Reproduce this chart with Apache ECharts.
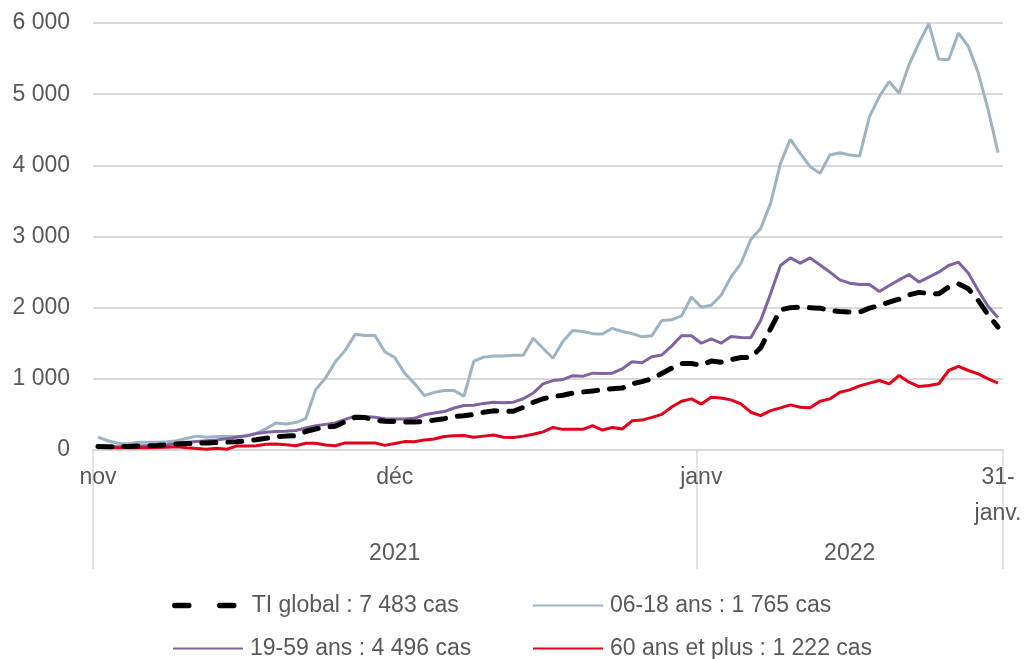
<!DOCTYPE html>
<html>
<head>
<meta charset="utf-8">
<script src="https://cdn.jsdelivr.net/npm/echarts@6/dist/echarts.min.js"></script>
<style>
  html, body { margin: 0; padding: 0; background: #ffffff; }
  #chart { width: 1026px; height: 659px; }
</style>
</head>
<body>
<div id="chart"></div>
<script>
// Daily categories: 1 Nov 2021 -> 31 Jan 2022
const startDate = '2021-11-01';
const dayCount = 92;
const days = [];
(function () {
  const d0 = new Date(startDate + 'T00:00:00Z');
  for (let i = 0; i < dayCount; i++) {
    const d = new Date(d0.getTime() + i * 86400000);
    days.push(d.toISOString().slice(0, 10));
  }
})();

// Month tick labels (index in days -> text)
const monthTickIndex = [0, 30, 61, 91];
const monthTickText = ['nov', 'déc', 'janv', '31-\njanv.'];
// Year groups (first day index of each year) and their labels
const yearStartIndex = [0, 61];
const yearText = ['2021', '2022'];

// Y ticks
const yTicks = [0, 1000, 2000, 3000, 4000, 5000, 6000];

const seriesNames = [
  'TI global : 7 483 cas',
  '06-18 ans : 1 765 cas',
  '19-59 ans : 4 496 cas',
  '60 ans et plus : 1 222 cas'
];

const tiGlobal = [
  50, 45, 45, 50, 55, 60, 65, 75, 85, 90,
  95, 100, 105, 110, 115, 130, 145, 165, 185, 195,
  200, 260, 295, 320, 335, 400, 460, 455, 420, 405,
  400, 395, 395, 400, 420, 440, 470, 480, 500, 530,
  550, 545, 545, 600, 670, 720, 750, 770, 800, 815,
  830, 845, 860, 870, 930, 960, 1000, 1075, 1150, 1215,
  1215, 1190, 1250, 1234, 1270, 1300, 1300, 1436, 1703, 1970,
  2000, 2007, 2000, 1993, 1960, 1945, 1937, 1937, 1993, 2030,
  2077, 2120, 2180, 2215, 2200, 2194, 2290, 2335, 2265, 2101,
  1900, 1726
];

const ans06_18 = [
  180, 130, 95, 85, 110, 110, 110, 115, 130, 165,
  195, 180, 190, 190, 190, 195, 235, 300, 380, 365,
  385, 440, 845, 1010, 1240, 1400, 1625, 1610, 1610, 1380,
  1300, 1080, 935, 765, 810, 835, 835, 755, 1250, 1305,
  1320, 1320, 1330, 1330, 1570, 1430, 1290, 1525, 1680, 1665,
  1635, 1630, 1710, 1665, 1635, 1590, 1605, 1820, 1830, 1885,
  2150, 2005, 2033, 2174, 2432, 2620, 2958, 3113, 3465, 4028,
  4366, 4169, 3981, 3887, 4146, 4178, 4146, 4131, 4685, 4967,
  5178, 5014, 5413, 5718, 5990, 5493, 5484, 5859, 5671, 5296,
  4780, 4178
];

const ans19_59 = [
  50, 45, 45, 50, 55, 60, 65, 75, 95, 110,
  120, 130, 140, 160, 180, 200, 230, 250, 260, 265,
  275, 310, 340, 360, 380, 430, 475, 470, 460, 440,
  437, 437, 445, 495, 520, 540, 590, 625, 630, 655,
  670, 665, 672, 720, 800, 930, 975, 990, 1045, 1035,
  1080, 1075, 1080, 1140, 1240, 1225, 1310, 1335, 1460, 1605,
  1605, 1500, 1562, 1501, 1595, 1580, 1576, 1820, 2194, 2593,
  2700, 2625, 2700, 2600, 2499, 2391, 2344, 2326, 2326, 2227,
  2311, 2391, 2466, 2358, 2429, 2499, 2593, 2639, 2485, 2241,
  2016, 1857
];

const ans60plus = [
  40, 35, 30, 30, 30, 30, 35, 40, 45, 30,
  20, 10, 25, 10, 55, 55, 60, 80, 85, 75,
  60, 95, 95, 70, 60, 100, 100, 100, 100, 65,
  90, 118, 115, 140, 155, 190, 200, 205, 180, 195,
  210, 180, 175, 195, 222, 255, 317, 290, 290, 290,
  341, 280, 317, 295, 410, 420, 459, 500, 605, 685,
  718, 645, 742, 730, 704, 648, 531, 484, 554, 592,
  634, 600, 592, 685, 718, 812, 845, 901, 939, 977,
  930, 1047, 953, 892, 906, 930, 1117, 1174, 1117, 1070,
  1000, 939
];

const seriesData = [tiGlobal, ans06_18, ans19_59, ans60plus];

// styles
const FONT = 'Liberation Sans, Arial, sans-serif';
const TXT = '#595959';
const GRIDC = '#d9d9d9';
const FS = 23;
const colors = ['#000000', '#9bb3c3', '#8064a2', '#e3001b'];

function fmtThousands(v) {
  return String(v).replace(/\B(?=(\d{3})+(?!\d))/g, ' ');
}

// year label positions: centre index of each year span
const yearLabelIndex = yearStartIndex.map(function (s, k) {
  const e = (k + 1 < yearStartIndex.length) ? yearStartIndex[k + 1] - 1 : dayCount - 1;
  return Math.floor((s + e) / 2);
});

const chart = echarts.init(document.getElementById('chart'), null, { renderer: 'canvas' });

function makeLegend(name, left, top, lineStyle) {
  const lg = {
    data: [name],
    orient: 'horizontal',
    left: left,
    top: top,
    padding: 0,
    itemWidth: 70,
    itemHeight: 22,
    itemStyle: { opacity: 0 },
    textStyle: { color: TXT, fontSize: FS, fontFamily: FONT, lineHeight: 22, padding: [0, 0, 0, 2] }
  };
  if (lineStyle) lg.lineStyle = lineStyle;
  return lg;
}

const option = {
  animation: false,
  backgroundColor: '#ffffff',
  textStyle: { fontFamily: FONT },
  grid: { left: 93, right: 23, top: 23, bottom: 209, containLabel: false },
  xAxis: [
    {
      type: 'category',
      data: days,
      boundaryGap: true,
      axisLine: { show: true, lineStyle: { color: GRIDC, width: 2 } },
      axisTick: {
        show: true,
        length: 119,
        interval: function (idx) { return yearStartIndex.indexOf(idx) >= 0; },
        lineStyle: { color: GRIDC, width: 1.5 }
      },
      axisLabel: {
        interval: function (idx) { return monthTickIndex.indexOf(idx) >= 0; },
        formatter: function (val, idx) {
          const k = monthTickIndex.indexOf(idx);
          return k >= 0 ? monthTickText[k] : '';
        },
        color: TXT,
        fontSize: FS,
        fontFamily: FONT,
        lineHeight: 36,
        margin: 10,
        align: 'center'
      },
      splitLine: { show: false }
    },
    {
      type: 'category',
      data: days,
      boundaryGap: true,
      position: 'bottom',
      offset: 80,
      axisLine: { show: false },
      axisTick: { show: false },
      axisLabel: {
        interval: function (idx) { return yearLabelIndex.indexOf(idx) >= 0; },
        formatter: function (val, idx) {
          const k = yearLabelIndex.indexOf(idx);
          return k >= 0 ? yearText[k] : '';
        },
        color: TXT,
        fontSize: FS,
        fontFamily: FONT,
        lineHeight: 24,
        margin: 12
      },
      splitLine: { show: false }
    }
  ],
  yAxis: {
    type: 'value',
    min: yTicks[0],
    max: yTicks[yTicks.length - 1],
    interval: yTicks[1] - yTicks[0],
    axisLine: { show: false },
    axisTick: { show: false },
    axisLabel: {
      color: TXT,
      fontSize: FS,
      fontFamily: FONT,
      margin: 23,
      formatter: fmtThousands
    },
    splitLine: { show: true, lineStyle: { color: GRIDC, width: 2 } }
  },
  legend: [
    makeLegend(seriesNames[0], 172, 594, { width: 5.5, type: [14, 31], cap: 'round' }),
    makeLegend(seriesNames[1], 532, 594),
    makeLegend(seriesNames[2], 172, 637),
    makeLegend(seriesNames[3], 532, 637)
  ],
  series: [
    {
      name: seriesNames[1],
      type: 'line',
      data: seriesData[1],
      symbol: 'none',
      z: 2,
      lineStyle: { color: colors[1], width: 3 },
      itemStyle: { color: colors[1] }
    },
    {
      name: seriesNames[2],
      type: 'line',
      data: seriesData[2],
      symbol: 'none',
      z: 3,
      lineStyle: { color: colors[2], width: 3 },
      itemStyle: { color: colors[2] }
    },
    {
      name: seriesNames[3],
      type: 'line',
      data: seriesData[3],
      symbol: 'none',
      z: 4,
      lineStyle: { color: colors[3], width: 3 },
      itemStyle: { color: colors[3] }
    },
    {
      name: seriesNames[0],
      type: 'line',
      data: seriesData[0],
      symbol: 'none',
      z: 5,
      lineStyle: { color: colors[0], width: 5, type: [14, 12], cap: 'round' },
      itemStyle: { color: colors[0] }
    }
  ]
};

chart.setOption(option);
</script>
</body>
</html>
